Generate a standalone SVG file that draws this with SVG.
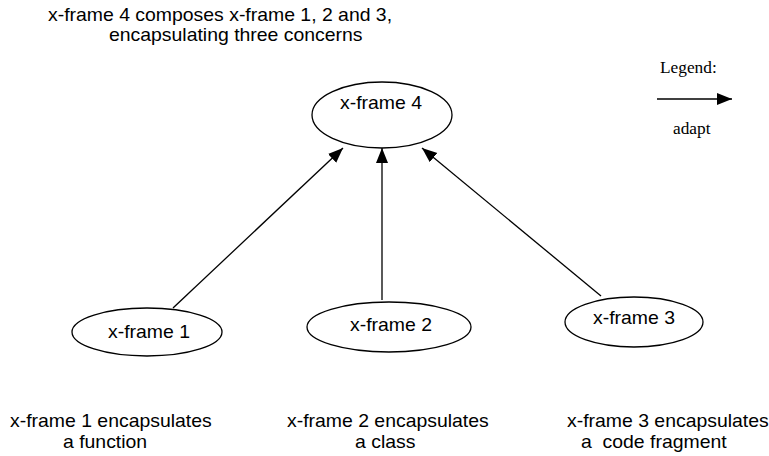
<svg xmlns="http://www.w3.org/2000/svg" width="769" height="456" viewBox="0 0 769 456">
  <style>
    .node { fill: #ffffff; stroke: #000000; stroke-width: 1.3; }
    .edge { fill: none; stroke: #000000; stroke-width: 1.3; }
    .sans { font-family: "Liberation Sans", Arial, sans-serif; font-size: 17.5px; fill: #000000; }
    .serif { font-family: "Liberation Serif", "Times New Roman", serif; font-size: 16.5px; fill: #000000; }
    .mid { text-anchor: middle; }
    .pre { white-space: pre; }
  </style>
  <defs>
    <marker id="arrow" markerUnits="userSpaceOnUse" markerWidth="16" markerHeight="13" refX="15" refY="6" orient="auto">
      <path d="M0,0 L15,6 L0,12 z" fill="#000000"/>
    </marker>
  </defs>

  <rect width="769" height="456" fill="#ffffff"/>

  <!-- heading -->
  <g id="title" class="sans">
    <text transform="translate(48,21) scale(1.11,1)">x-frame 4 composes x-frame 1, 2 and 3,</text>
    <text transform="translate(109,41) scale(1.11,1)">encapsulating three concerns</text>
  </g>

  <!-- composition edges -->
  <g id="connectors">
    <line class="edge" x1="173" y1="308" x2="343" y2="148" marker-end="url(#arrow)"/>
    <line class="edge" x1="382" y1="300" x2="382" y2="148" marker-end="url(#arrow)"/>
    <line class="edge" x1="601" y1="296" x2="422" y2="148" marker-end="url(#arrow)"/>
  </g>

  <g id="xframe4">
    <ellipse class="node" cx="382" cy="115" rx="70" ry="33"/>
    <text class="sans mid" transform="translate(381,109) scale(1.11,1)">x-frame 4</text>
  </g>

  <g id="xframe1">
    <ellipse class="node" cx="147" cy="332" rx="75" ry="24"/>
    <text class="sans mid" transform="translate(149,338) scale(1.11,1)">x-frame 1</text>
  </g>

  <g id="xframe2">
    <ellipse class="node" cx="389" cy="327" rx="82" ry="25"/>
    <text class="sans mid" transform="translate(391,331) scale(1.11,1)">x-frame 2</text>
  </g>

  <g id="xframe3">
    <ellipse class="node" cx="634" cy="322" rx="69" ry="25"/>
    <text class="sans mid" transform="translate(634,324) scale(1.11,1)">x-frame 3</text>
  </g>

  <!-- captions under each frame -->
  <g id="captions" class="sans">
    <text transform="translate(10,427) scale(1.11,1)">x-frame 1 encapsulates</text>
    <text transform="translate(63,448) scale(1.11,1)">a function</text>
    <text transform="translate(287,427) scale(1.11,1)">x-frame 2 encapsulates</text>
    <text transform="translate(355,448) scale(1.11,1)">a class</text>
    <text transform="translate(567,427) scale(1.11,1)">x-frame 3 encapsulates</text>
    <text class="pre" transform="translate(581,448) scale(1.11,1)">a  code fragment</text>
  </g>

  <!-- legend -->
  <g id="legend" class="serif">
    <text transform="translate(660,73) scale(1.05,1)">Legend:</text>
    <line class="edge" x1="657" y1="99" x2="732" y2="99" marker-end="url(#arrow)"/>
    <text transform="translate(673,134) scale(1.05,1)">adapt</text>
  </g>
</svg>
